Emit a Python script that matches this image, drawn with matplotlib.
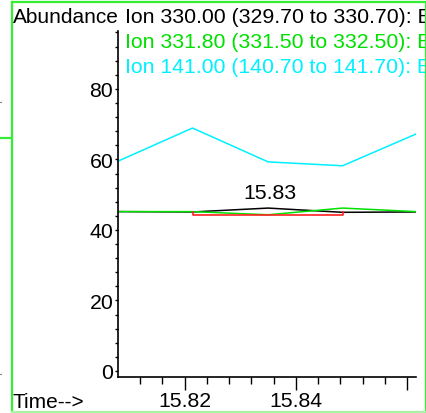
import numpy as np
import matplotlib
matplotlib.use("Agg")
from matplotlib import pyplot as plt
from matplotlib.lines import Line2D
from matplotlib.patches import Rectangle
from matplotlib.ticker import FixedLocator, MultipleLocator, FixedFormatter

plt.rcParams['font.family'] = ['Liberation Sans', 'DejaVu Sans']

# scan times (min) and ion abundances
scan_time = [15.8080, 15.8214, 15.8350, 15.8484, 15.8616]
ion_330 = [45.2, 45.1, 46.2, 45.0, 45.1]
ion_331 = [45.2, 45.2, 44.3, 46.2, 45.2]
ion_141 = [59.5, 68.9, 59.3, 58.2, 67.2]

ion_labels = ["Ion 330.00 (329.70 to 330.70): B",
              "Ion 331.80 (331.50 to 332.50): B",
              "Ion 141.00 (140.70 to 141.70): B"]

# integration of the 330 peak
peak_rt = 15.8350
peak_top = 46.2
int_start, int_end = 15.8214, 15.8484
int_base, int_edge = 44.2, 45.0

x_major = [15.82, 15.84, 15.86]
x_major_labels = ["15.82", "15.84", ""]
y_major = [0, 20, 40, 60, 80]

W, H = 427, 414
fig = plt.figure(figsize=(W / 100, H / 100), dpi=100)

ax = fig.add_axes([118 / W, 1 - 377.5 / H, (416 - 118) / W, (377.5 - 31.7) / H])
ax.set_xlim(scan_time[0], scan_time[-1])
ax.set_ylim(-1.56, 96.5)

black, green, cyan, red = '#000000', '#00e000', '#00f0ff', '#ff2020'
lw = 1.1
ax.plot(scan_time, ion_141, color=cyan, lw=lw)
ax.plot(scan_time, ion_330, color=black, lw=lw)
ax.plot(scan_time, ion_331, color=green, lw=lw)

ax.plot([int_start, int_start, int_end, int_end],
        [int_edge, int_base, int_base, int_edge], color=red, lw=1.2)
ax.annotate("15.83", xy=(peak_rt, peak_top), xytext=(1, 4.5),
            textcoords='offset points', ha='center', va='bottom', fontsize=15.3)

for s in ['top', 'right']:
    ax.spines[s].set_visible(False)
for s in ['left', 'bottom']:
    ax.spines[s].set_linewidth(1.2)

ax.xaxis.set_major_locator(FixedLocator(x_major))
ax.xaxis.set_major_formatter(FixedFormatter(x_major_labels))
ax.xaxis.set_minor_locator(FixedLocator(np.arange(15.812, 15.858, 0.004)))
ax.yaxis.set_major_locator(FixedLocator(y_major))
ax.yaxis.set_minor_locator(MultipleLocator(4))

ax.tick_params(axis='x', which='major', direction='out', length=9.5, width=1, pad=1,
               labelsize=15.3)
ax.tick_params(axis='x', which='minor', direction='out', length=4.7, width=1)
ax.tick_params(axis='y', which='major', direction='out', length=2.5, width=1, pad=1,
               labelsize=15.3)
ax.tick_params(axis='y', which='minor', direction='out', length=2, width=1)

# pane frame clips the header text
frame = Rectangle((0, 0), 425 / W, 1, transform=fig.transFigure, fill=False, visible=False)
fig.add_artist(frame)

fig.text(12.7 / W, 1 - 23.3 / H, "Abundance", fontsize=15, va='baseline')
fig.text(12.7 / W, 1 - 408.3 / H, "Time-->", fontsize=15, va='baseline')
for i, (lab, col) in enumerate(zip(ion_labels, [black, green, cyan])):
    t = fig.text(125 / W, 1 - (23.3 + 24.7 * i) / H, lab, fontsize=15.3,
                 va='baseline', color=col)
    t.set_clip_path(frame)

# green pane border
bright, pale = '#33ee33', '#a8f5a8'
fig.add_artist(Line2D([11.7 / W, 11.7 / W], [1 - 412.5 / H, 1 - 2.7 / H], color=bright, lw=1.6))
fig.add_artist(Line2D([11.7 / W, 425.8 / W], [1 - 2.7 / H, 1 - 2.7 / H], color=bright, lw=1.6))
fig.add_artist(Line2D([425.8 / W, 425.8 / W], [1 - 412.5 / H, 1 - 2.7 / H], color=bright, lw=1.6))
fig.add_artist(Line2D([11.7 / W, 425.8 / W], [1 - 412.7 / H, 1 - 412.7 / H], color=pale, lw=1.6))
fig.add_artist(Line2D([0, 11.7 / W], [1 - 139.3 / H, 1 - 139.3 / H], color=bright, lw=1.6))
fig.add_artist(Line2D([0, 1.5 / W], [1 - 102.7 / H, 1 - 102.7 / H], color='#888888', lw=0.8))
fig.add_artist(Line2D([0, 1.5 / W], [1 - 375 / H, 1 - 375 / H], color='#888888', lw=0.8))

fig.savefig("out.png", dpi=100)
